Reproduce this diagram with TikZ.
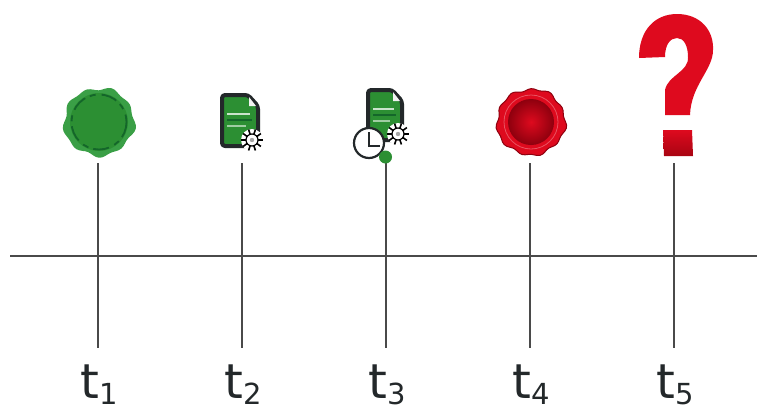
\documentclass[tikz,border=0pt]{standalone}
\usepackage{fontspec}
\setmainfont{DejaVu Sans}
\definecolor{leaf}{HTML}{2C8F33}
\definecolor{leafdark}{HTML}{14662A}
\definecolor{leaflight}{HTML}{3A9F46}
\definecolor{inkdark}{HTML}{23282A}
\definecolor{wax}{HTML}{DE0A1E}
\definecolor{waxdark}{HTML}{8E000E}
\definecolor{waxdeep}{HTML}{A80412}
\definecolor{linegray}{HTML}{4A4A4A}
\newcommand{\wavyblob}[6]{% x,y,r,a,k,drawopts
  \draw[#6] plot[smooth cycle,samples=72,domain=0:355,variable=\t]
    ({#1+(#3+#4*sin(#5*\t)+0.7*#4*sin(5*\t+40)+0.6*#4*sin(2*\t+100))*cos(\t)},{#2+(#3+#4*sin(#5*\t)+0.7*#4*sin(5*\t+40)+0.6*#4*sin(2*\t+100))*sin(\t)});
}
\newcommand{\gearicon}[3]{% x,y,r
  \fill[white] (#1,#2) circle[radius=#3*1.1];
  \foreach \a in {0,36,...,324}{
    \draw[black,line width=1.6pt] ({#1+#3*0.55*cos(\a)},{#2+#3*0.55*sin(\a)}) -- ({#1+#3*1.1*cos(\a)},{#2+#3*1.1*sin(\a)});
  }
  \draw[black,line width=1.2pt,fill=white] (#1,#2) circle[radius=#3*0.6];
  \fill[gray!70] (#1,#2) circle[radius=#3*0.22];
}
\newcommand{\docicon}[4]{% left,top,right,bottom
  \draw[inkdark,line width=4pt,line join=round,fill=leaf,rounded corners=3pt]
    (#1,#2) -- (#3-10,#2) -- (#3,#2+11) -- (#3,#4) -- (#1,#4) -- cycle;
  \fill[white!90!gray] (#3-9,#2+2) -- (#3-2,#2+11) -- (#3-9,#2+11) -- cycle;
  \draw[white!75!leaf,line width=1.4pt] (#1+5,#2+19) -- (#3-8,#2+19);
  \draw[leafdark,line width=1.6pt] (#1+5,#2+25) -- (#3-6,#2+25);
  \draw[white!55!leaf,line width=1.2pt] (#1+5,#2+31) -- (#3-12,#2+31);
}
\tikzset{
  x=1pt,y=-1pt,
  rule/.style={draw=linegray,line width=1.5pt},
  anchorspot/.style={circle,inner sep=0pt,minimum size=82pt},
  tlabel/.style={anchor=base,inner sep=0pt,text=inkdark,font=\fontsize{48}{48}\selectfont},
  tsub/.style={anchor=base west,inner sep=0pt,text=inkdark,font=\fontsize{29}{29}\selectfont}
}
\begin{document}
\begin{tikzpicture}
\useasboundingbox (0,0) rectangle (757,410);
% icon anchors
\node[anchorspot] (i1) at (98,122) {};
\node[anchorspot] (i2) at (242,122) {};
\node[anchorspot] (i3) at (386,122) {};
\node[anchorspot] (i4) at (530,122) {};
\node[anchorspot] (i5) at (674,122) {};
\coordinate (e1) at (98,348);
\coordinate (e2) at (242,348);
\coordinate (e3) at (386,348);
\coordinate (e4) at (530,348);
\coordinate (e5) at (674,348);
\coordinate (axisl) at (10,256);
\coordinate (axisr) at (757,256);
% connectors
\draw[rule] (axisl) -- (axisr);
\draw[rule] (i1.south) -- (e1);
\draw[rule] (i2.south) -- (e2);
\draw[rule] (i3.south) -- (e3);
\draw[rule] (i4.south) -- (e4);
\draw[rule] (i5.south) -- (e5);
% green seal
\wavyblob{99}{122}{34.5}{1.3}{9}{fill=leaflight,draw=none}
\fill[leaf] (99,122) circle[radius=29];
\draw[leafdark,line width=1.8pt,dash pattern=on 16pt off 5pt on 6pt off 6pt] (99,122) circle[radius=27.5];
% document 2
\docicon{222}{95}{258}{146}
\gearicon{252}{140}{10}
% document 3
\docicon{368}{90}{402}{140}
\gearicon{398}{134}{10}
\draw[inkdark,line width=2.2pt,fill=white] (369,143) circle[radius=15];
\draw[inkdark,line width=1.8pt] (369,132) -- (369,146) -- (380,146);
\fill[leaf] (385.5,157) circle[radius=6.5];
% red seal
\wavyblob{531}{122}{33.5}{1.1}{11}{fill=wax,draw=waxdark,line width=1pt}
\draw[white!30!wax,line width=0.8pt] (531,122) circle[radius=27];
\shade[inner color=wax,outer color=waxdark] (531,122) circle[radius=23];
% question mark
\fill[wax] (639,58) .. controls (639,30) and (655,14) .. (677,14)
  .. controls (700,14) and (714,30) .. (713,50)
  .. controls (713,70) and (691,85) .. (690,115)
  -- (665,115) -- (665,90)
  .. controls (668,75) and (689,72) .. (688,57)
  .. controls (688,46) and (684,38) .. (677,38)
  .. controls (670,38) and (665,45) .. (665,57) -- cycle;
\shade[top color=wax,bottom color=waxdeep] (663,130) -- (692,130) -- (693,156) -- (664,156) -- cycle;
% labels
\node[tlabel] (t1) at (90,398) {t};
\node[tsub] (s1) at (99,404) {1};
\node[tlabel] (t2) at (234,398) {t};
\node[tsub] (s2) at (243,404) {2};
\node[tlabel] (t3) at (378,398) {t};
\node[tsub] (s3) at (387,404) {3};
\node[tlabel] (t4) at (522,398) {t};
\node[tsub] (s4) at (531,404) {4};
\node[tlabel] (t5) at (666,398) {t};
\node[tsub] (s5) at (675,404) {5};
\end{tikzpicture}
\end{document}
